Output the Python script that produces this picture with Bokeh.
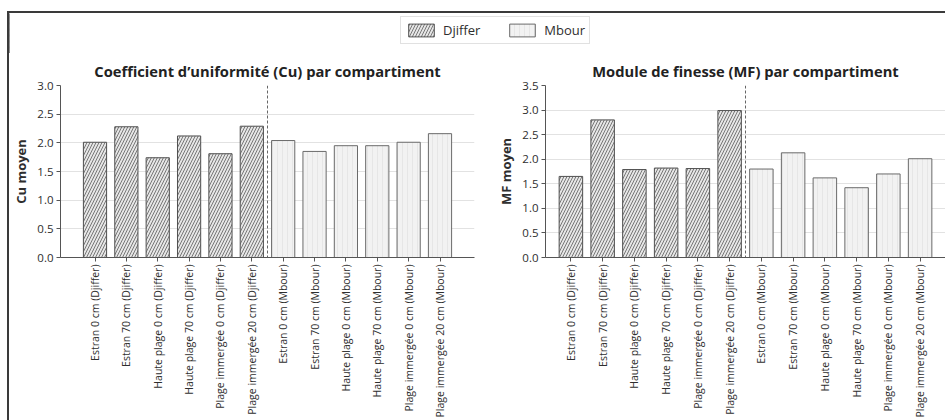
import numpy as np
from bokeh.plotting import figure
from bokeh.models import (ColumnDataSource, FactorRange, Range1d, Span, Legend,
                          LegendItem, SingleIntervalTicker, NumeralTickFormatter)
from bokeh.layouts import column, row
from bokeh.embed import file_html
from bokeh.resources import INLINE

FONT = "Open Sans"

# ---- data -------------------------------------------------------------
sites = ["Djiffer", "Mbour"]
compartments = ["Estran 0 cm", "Estran 70 cm", "Haute plage 0 cm",
                "Haute plage 70 cm", "Plage immergée 0 cm", "Plage immergée 20 cm"]
categories = [f"{c} ({s})" for s in sites for c in compartments]

# Coefficient d'uniformité moyen (Cu)
cu_values = [2.01, 2.28, 1.74, 2.12, 1.81, 2.29,
             2.04, 1.85, 1.95, 1.95, 2.01, 2.16]
# Module de finesse moyen (MF)
mf_values = [1.65, 2.80, 1.79, 1.82, 1.81, 2.99,
             1.80, 2.13, 1.62, 1.42, 1.70, 2.01]

# ---- styles -----------------------------------------------------------
STYLE = {
    "Djiffer": dict(fill_color="#e6e6e6", line_color="#505050",
                    hatch_pattern="/", hatch_color="#5a5a5a",
                    hatch_scale=6, hatch_weight=0.8),
    "Mbour": dict(fill_color="#f2f2f2", line_color="#6a6a6a",
                  hatch_pattern="|", hatch_color="#dedede",
                  hatch_scale=5, hatch_weight=0.6),
}
AXIS_COLOR = "#555555"
TEXT_COLOR = "#2e2e2e"


def site_source(values, site):
    idx = [i for i, c in enumerate(categories) if c.endswith(f"({site})")]
    return ColumnDataSource(dict(x=[categories[i] for i in idx],
                                 top=[values[i] for i in idx]))


def panel(values, title, ylabel, ymax, width, height, border_left,
          border_right, border_top, border_bottom, pad):
    p = figure(x_range=FactorRange(factors=categories, range_padding=pad,
                                   range_padding_units="absolute"),
               y_range=Range1d(0, ymax), width=width, height=height,
               output_backend="svg", toolbar_location=None,
               min_border_left=border_left, min_border_right=border_right,
               min_border_top=border_top, min_border_bottom=border_bottom,
               background_fill_color="white", border_fill_color="white")
    for s in sites:
        p.vbar(x="x", top="top", bottom=0, width=0.74, line_width=1,
               source=site_source(values, s), **STYLE[s])

    # separator between the two sites
    p.add_layout(Span(location=len(compartments), dimension="height",
                      line_color="#666666", line_width=1, line_dash="3 2"))

    p.title.text = title
    p.title.align = "center"
    p.title.text_font = FONT
    p.title.text_font_size = "14.7px"
    p.title.text_font_style = "bold"
    p.title.text_color = "#222222"

    p.outline_line_color = None
    p.xgrid.visible = False
    p.ygrid.grid_line_color = "#e2e2e2"
    p.ygrid.grid_line_width = 1

    p.yaxis.ticker = SingleIntervalTicker(interval=0.5)
    p.yaxis.formatter = NumeralTickFormatter(format="0.0")
    p.yaxis.axis_label = ylabel
    p.yaxis.axis_label_text_font = FONT
    p.yaxis.axis_label_text_font_size = "13px"
    p.yaxis.axis_label_text_font_style = "bold"
    p.yaxis.axis_label_text_color = TEXT_COLOR
    p.yaxis.axis_label_standoff = 4
    p.yaxis.minor_tick_line_color = None
    p.yaxis.major_label_standoff = 3
    p.yaxis.major_label_text_font_size = "11.5px"

    p.xaxis.major_label_orientation = np.pi / 2
    p.xaxis.major_label_standoff = 3
    p.xaxis.major_label_text_font_size = "10.5px"

    for ax in (p.xaxis, p.yaxis):
        ax.axis_line_color = AXIS_COLOR
        ax.major_tick_line_color = AXIS_COLOR
        ax.major_tick_out = 4
        ax.major_tick_in = 0
        ax.major_label_text_font = FONT
        ax.major_label_text_color = TEXT_COLOR
    return p


left = panel(cu_values, "Coefficient d’uniformité (Cu) par compartiment",
             "Cu moyen", 3.0, width=485, height=367, border_left=48,
             border_right=20, border_top=27, border_bottom=163, pad=0.6)
right = panel(mf_values, "Module de finesse (MF) par compartiment",
              "MF moyen", 3.5, width=451, height=367, border_left=46,
              border_right=0, border_top=29, border_bottom=159, pad=0.3)

# ---- shared legend strip ---------------------------------------------
lg = figure(width=936, height=40, output_backend="svg", toolbar_location=None,
            x_range=Range1d(0, 1), y_range=Range1d(0, 1),
            min_border=0, outline_line_color=None)
lg.axis.visible = False
lg.grid.visible = False
items = []
for s in sites:
    # one bar kept outside the visible range: only its legend swatch shows
    r = lg.vbar(x="x", top="top", width=0.1,
                source=ColumnDataSource(dict(x=[-5.0], top=[1.0])),
                line_width=1, **STYLE[s])
    items.append(LegendItem(label=s, renderers=[r]))
legend = Legend(items=items, orientation="horizontal", location=(391, 9),
                glyph_width=32, glyph_height=16, label_standoff=6, spacing=26,
                padding=4, margin=0, label_text_font=FONT,
                label_text_font_size="13px", label_text_color=TEXT_COLOR,
                border_line_color="#c4c4c4", background_fill_color="white")
lg.add_layout(legend, "center")

layout = column(lg, row(left, right), margin=(11, 0, 0, 7),
                styles={"border-top": "2px solid #3a3a3a",
                        "border-left": "2px solid #3a3a3a"})

with open("out.html", "w") as f:
    f.write(file_html(layout, INLINE))
